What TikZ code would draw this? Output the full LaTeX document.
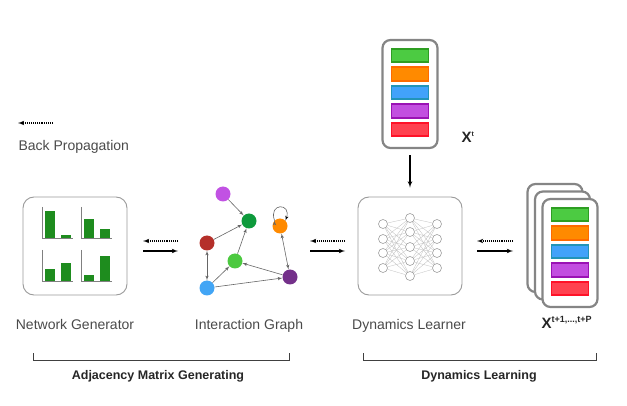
\documentclass[tikz,border=0pt]{standalone}
\usepackage{fontspec}
\setmainfont{Liberation Sans}
\usetikzlibrary{arrows, positioning, shapes.geometric}
\definecolor{textgray}{HTML}{4A4A4A}
\definecolor{panelgray}{HTML}{9A9A9A}
\definecolor{featgray}{HTML}{858585}
\definecolor{chartgreen}{HTML}{1E8C1E}
\definecolor{barG}{HTML}{4CCB42}  \definecolor{barGl}{HTML}{2E9E22}
\definecolor{barO}{HTML}{FF8A00}  \definecolor{barOl}{HTML}{FF6A00}
\definecolor{barB}{HTML}{42A2FA}  \definecolor{barBl}{HTML}{2294B8}
\definecolor{barP}{HTML}{C24EE0}  \definecolor{barPl}{HTML}{9A12B4}
\definecolor{barR}{HTML}{FF4250}  \definecolor{barRl}{HTML}{FF1228}
\definecolor{vMag}{HTML}{C152E3}
\definecolor{vDkGreen}{HTML}{0E9A3C}
\definecolor{vOrange}{HTML}{FF8A00}
\definecolor{vRed}{HTML}{B5302A}
\definecolor{vLtGreen}{HTML}{4CC940}
\definecolor{vPurple}{HTML}{74308A}
\definecolor{vBlue}{HTML}{42A5F5}
\begin{document}
\begin{tikzpicture}[x=1pt, y=-1pt,
panel/.style  ={rectangle, draw=panelgray, line width=0.9pt, rounded corners=11pt, minimum width=104pt, minimum height=98pt, fill=white},
feat/.style   ={rectangle, draw=featgray, line width=2.2pt, rounded corners=8pt, minimum width=55pt, minimum height=108pt, fill=white},
bar/.style    ={rectangle, line width=1.6pt, minimum width=37pt, minimum height=13.5pt, inner sep=0pt},
vert/.style   ={circle, minimum size=15pt, inner sep=0pt},
neuron/.style ={circle, draw=gray!75, fill=white, line width=0.6pt, minimum size=9pt, inner sep=0pt},
wire/.style   ={draw=gray!50, line width=0.3pt},
title/.style  ={text=textgray, font=\fontsize{14}{16}\selectfont, anchor=base},
group/.style  ={text=black!85, font=\bfseries\fontsize{12.5}{14}\selectfont, anchor=base},
line/.style   ={draw, -latex', line width=1.1pt},
back/.style   ={draw, -latex', line width=1.1pt, densely dotted},
gedge/.style  ={draw=gray!80!black, -latex', line width=0.6pt},
brace/.style  ={draw=black!75, line width=1pt},
]
\useasboundingbox (0,0) rectangle (627,406);

% Define the nodes
\node[panel]                     (ng)     at (75,246)  {};
\node[panel]                     (dl)     at (410,246) {};
\node[feat]                      (xt)     at (410,94)  {};
\node[feat]                      (xp3)    at (555,238) {};
\node[feat]                      (xp2)    at (562.5,245.5) {};
\node[feat]                      (xp1)    at (570,253) {};

% feature bars
\foreach \f/\l [count=\i from 0] in {barG/barGl, barO/barOl, barB/barBl, barP/barPl, barR/barRl}{
  \node[bar, fill=\f, draw=\l]   (xt-\i)  at ([yshift={(38.5-18.5*\i)*1pt}]xt.center)  {};
  \node[bar, fill=\f, draw=\l]   (xp-\i)  at ([yshift={(38.5-18.5*\i)*1pt}]xp1.center) {};
}

% bar charts of the generator
\foreach \ax/\by/\ha/\hb in {42/238/27/3, 81/238/19/9, 42/281/12/18, 81/281/6/25}{
  \fill[chartgreen] ({\ax+3},\by) rectangle ({\ax+13},{\by-\ha});
  \fill[chartgreen] ({\ax+19},\by) rectangle ({\ax+29},{\by-\hb});
  \draw[gray, line width=0.8pt] (\ax,{\by-31}) -- (\ax,\by) -- ({\ax+31},\by);
}

% interaction graph
\node[vert, fill=vMag]           (gm)     at (223,194) {};
\node[vert, fill=vDkGreen]       (gdg)    at (249,221) {};
\node[vert, fill=vOrange]        (go)     at (280,226) {};
\node[vert, fill=vRed]           (gr)     at (207,243) {};
\node[vert, fill=vLtGreen]       (glg)    at (235,261) {};
\node[vert, fill=vPurple]        (gp)     at (290,277) {};
\node[vert, fill=vBlue]          (gb)     at (207,288) {};

% dynamics learner
\foreach \y [count=\i] in {224,239,253,268} \node[neuron] (nA-\i) at (383,\y) {};
\foreach \y [count=\i] in {218,232,247,261,276} \node[neuron] (nB-\i) at (410,\y) {};
\foreach \y [count=\i] in {224,239,253,268} \node[neuron] (nC-\i) at (437,\y) {};

% labels
\node[title]                     (ngl)    at (75,330)  {Network Generator};
\node[title]                     (igl)    at (249,330) {Interaction Graph};
\node[title]                     (dll)    at (409,330) {Dynamics Learner};
\node[anchor=base west, text=black!85, font=\bfseries\fontsize{15}{16}\selectfont] (xtl) at (458,143) {X\raisebox{6pt}{\fontsize{7}{8}\selectfont t}};
\node[anchor=base west, text=black!85, font=\bfseries\fontsize{15}{16}\selectfont] (xpl) at (538,329) {X\raisebox{6pt}{\fontsize{9}{10}\selectfont t+1,...,t+P}};
\node[group]                     (amg)    at (158,379) {Adjacency Matrix Generating};
\node[group]                     (dyn)    at (479,379) {Dynamics Learning};
\node[title, anchor=base west]   (bp)     at (15,151)  {Back Propagation};
\coordinate (bpR) at (53,123);
\coordinate (bpL) at (18,123);

% % Connect the nodes
\path[back] (bpR) -- (bpL);
\foreach \l/\r [count=\k] in {143/178, 310/345, 477/513}{
  \coordinate (l\k) at (\l,246);
  \coordinate (r\k) at (\r,246);
  \path[back] ([yshift=5pt]r\k) -- ([yshift=5pt]l\k);
  \path[line] ([yshift=-5pt]l\k) -- ([yshift=-5pt]r\k);
}
\path[line, shorten <=6pt, shorten >=9pt] (xt) -- (dl);

\path[gedge] (gm) -- (gdg);
\path[gedge] (gr) -- (gdg);
\path[gedge] (glg) -- (gdg);
\path[gedge, latex'-latex'] (gr) -- (gb);
\path[gedge] (gb) -- (glg);
\path[gedge] (gb) -- (gp);
\path[gedge] (gp) -- (glg);
\path[gedge, latex'-latex'] (go) -- (gp);
\path[gedge] (go.north west) edge[out=110, in=70, looseness=4.5] (go.north east);

\foreach \i in {1,...,4} \foreach \j in {1,...,5} {
  \path[wire] (nA-\i) -- (nB-\j);
  \path[wire] (nB-\j) -- (nC-\i);
}

\path[brace] (33,353) -- (33,360) -- (289,360) -- (289,353);
\path[brace] (363,353) -- (363,360) -- (596,360) -- (596,353);

\end{tikzpicture}
\end{document}
